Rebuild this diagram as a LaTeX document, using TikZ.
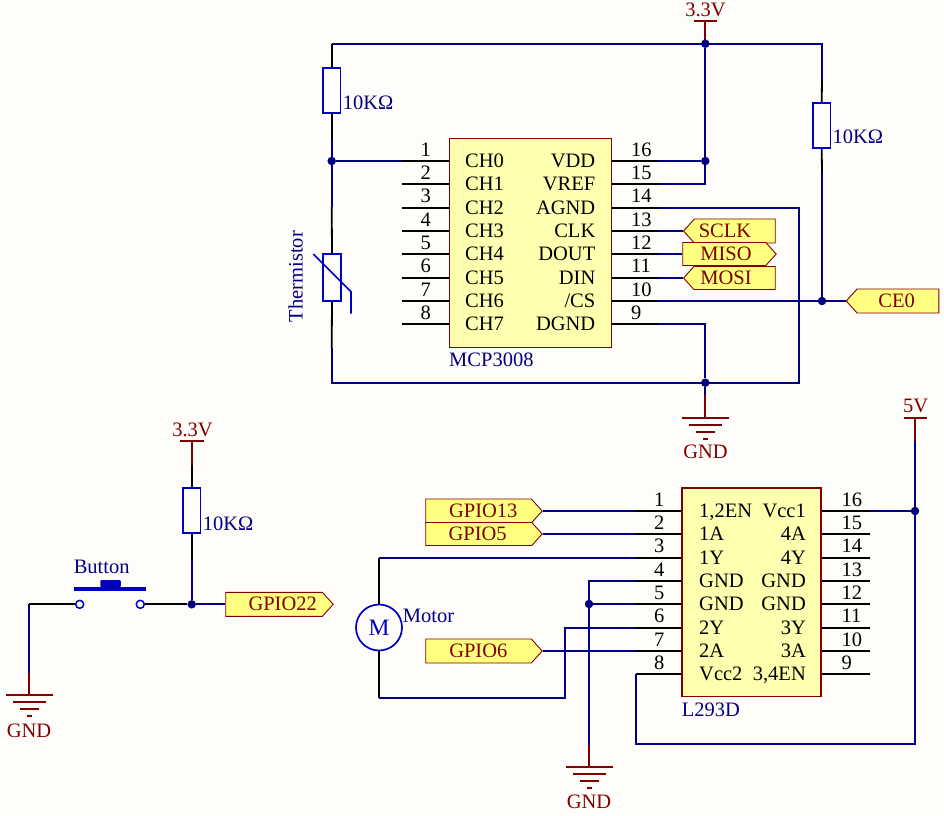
\documentclass[tikz,border=0pt]{standalone}
\usepackage{fontspec}
\setmainfont{Liberation Serif}
\usetikzlibrary{shapes.symbols}
\definecolor{wire}{HTML}{000080}
\definecolor{power}{HTML}{800000}
\definecolor{part}{HTML}{0000C0}
\definecolor{paper}{HTML}{FFFDF9}
\definecolor{chipfill}{HTML}{FFFFB0}
\definecolor{tagfill}{HTML}{FFFF80}
\newcommand{\sch}{\fontsize{20.5}{24}\selectfont}
\tikzset{
    txt/.style={inner sep=0pt, text height=12pt, text depth=0pt, font=\sch},
    pinnum/.style={txt, text=black},
    pinleft/.style={txt, text=black, anchor=west},
    pinright/.style={txt, text=black, anchor=east},
    partname/.style={txt, text=wire},
    powername/.style={txt, text=power},
    tagtext/.style={txt, text=power},
    chip/.style={rectangle, draw=power, fill=chipfill, inner sep=0pt},
    res/.style={rectangle, draw=part, line width=1.7pt, fill=paper, inner sep=0pt, minimum width=17.5pt, minimum height=45.5pt},
    tag/.style={signal, draw=power, line width=0.9pt, fill=tagfill, inner sep=0pt, signal pointer angle=96},
    dot/.style={circle, fill=wire, inner sep=0pt, minimum size=8.5pt},
    contact/.style={circle, draw=part, line width=1.5pt, fill=paper, inner sep=0pt, minimum size=8pt},
    wireline/.style={draw=wire, line width=1.8pt},
    pinline/.style={draw=black, line width=1.8pt},
    powerline/.style={draw=power, line width=1.8pt}
}

\begin{document}
\begin{tikzpicture}[x=1pt, y=-1pt]
    \fill[paper] (0,0) rectangle (944,815);
    \useasboundingbox (0,0) rectangle (944,815);

    % MCP3008
    \node[chip, line width=0.9pt, minimum width=162.5pt, minimum height=209pt] (U1) at (530.5,243) {};
    \node[partname, anchor=west] (U1_name) at (449,360) {MCP3008};
    \coordinate (U1_1) at (402,161);
    \coordinate (U1_2) at (402,184);
    \coordinate (U1_3) at (402,208);
    \coordinate (U1_4) at (402,231);
    \coordinate (U1_5) at (402,254);
    \coordinate (U1_6) at (402,278);
    \coordinate (U1_7) at (402,301);
    \coordinate (U1_8) at (402,324);
    \coordinate (U1_9) at (658,324);
    \coordinate (U1_10) at (658,301);
    \coordinate (U1_11) at (658,278);
    \coordinate (U1_12) at (658,254);
    \coordinate (U1_13) at (658,231);
    \coordinate (U1_14) at (658,208);
    \coordinate (U1_15) at (658,184);
    \coordinate (U1_16) at (658,161);
    \node[pinnum] (N1_1) at (425.7,150) {1};
    \node[pinnum] (N1_2) at (425.7,173.7) {2};
    \node[pinnum] (N1_3) at (425.7,196.7) {3};
    \node[pinnum] (N1_4) at (425.7,220) {4};
    \node[pinnum] (N1_5) at (425.7,243.3) {5};
    \node[pinnum] (N1_6) at (425.7,266.7) {6};
    \node[pinnum] (N1_7) at (425.7,290) {7};
    \node[pinnum] (N1_8) at (425.7,313.3) {8};
    \node[pinnum, anchor=west] (N1_9) at (631,313.3) {9};
    \node[pinnum, anchor=west] (N1_10) at (631,290) {10};
    \node[pinnum, anchor=west] (N1_11) at (631,266.7) {11};
    \node[pinnum, anchor=west] (N1_12) at (631,243.3) {12};
    \node[pinnum, anchor=west] (N1_13) at (631,220) {13};
    \node[pinnum, anchor=west] (N1_14) at (631,196.7) {14};
    \node[pinnum, anchor=west] (N1_15) at (631,173.7) {15};
    \node[pinnum, anchor=west] (N1_16) at (631,150) {16};
    \node[pinleft] (L1_1) at (465,161) {CH0};
    \node[pinleft] (L1_2) at (465,184) {CH1};
    \node[pinleft] (L1_3) at (465,208) {CH2};
    \node[pinleft] (L1_4) at (465,231) {CH3};
    \node[pinleft] (L1_5) at (465,254) {CH4};
    \node[pinleft] (L1_6) at (465,278) {CH5};
    \node[pinleft] (L1_7) at (465,301) {CH6};
    \node[pinleft] (L1_8) at (465,324) {CH7};
    \node[pinright] (L1_9) at (595.5,324) {DGND};
    \node[pinright] (L1_10) at (595.5,301) {/CS};
    \node[pinright] (L1_11) at (595.5,278) {DIN};
    \node[pinright] (L1_12) at (595.5,254) {DOUT};
    \node[pinright] (L1_13) at (595.5,231) {CLK};
    \node[pinright] (L1_14) at (595.5,208) {AGND};
    \node[pinright] (L1_15) at (595.5,184) {VREF};
    \node[pinright] (L1_16) at (595.5,161) {VDD};

    % L293D
    \node[chip, line width=1.8pt, minimum width=139.5pt, minimum height=208.5pt] (U2) at (751.5,592.3) {};
    \node[partname, anchor=west] (U2_name) at (681.7,710) {L293D};
    \coordinate (U2_1) at (636,511);
    \coordinate (U2_2) at (636,534);
    \coordinate (U2_3) at (636,558);
    \coordinate (U2_4) at (636,581);
    \coordinate (U2_5) at (636,604);
    \coordinate (U2_6) at (636,628);
    \coordinate (U2_7) at (636,651);
    \coordinate (U2_8) at (636,674);
    \coordinate (U2_9) at (870,674);
    \coordinate (U2_10) at (870,651);
    \coordinate (U2_11) at (870,628);
    \coordinate (U2_12) at (870,604);
    \coordinate (U2_13) at (870,581);
    \coordinate (U2_14) at (870,558);
    \coordinate (U2_15) at (870,534);
    \coordinate (U2_16) at (870,511);
    \node[pinnum] (N2_1) at (659.3,500) {1};
    \node[pinnum] (N2_2) at (659.3,523.5) {2};
    \node[pinnum] (N2_3) at (659.3,546.5) {3};
    \node[pinnum] (N2_4) at (659.3,570) {4};
    \node[pinnum] (N2_5) at (659.3,593.5) {5};
    \node[pinnum] (N2_6) at (659.3,616.5) {6};
    \node[pinnum] (N2_7) at (659.3,640) {7};
    \node[pinnum] (N2_8) at (659.3,663.3) {8};
    \node[pinnum, anchor=west] (N2_9) at (841.5,663.3) {9};
    \node[pinnum, anchor=west] (N2_10) at (841.5,640) {10};
    \node[pinnum, anchor=west] (N2_11) at (841.5,616.5) {11};
    \node[pinnum, anchor=west] (N2_12) at (841.5,593.5) {12};
    \node[pinnum, anchor=west] (N2_13) at (841.5,570) {13};
    \node[pinnum, anchor=west] (N2_14) at (841.5,546.5) {14};
    \node[pinnum, anchor=west] (N2_15) at (841.5,523.5) {15};
    \node[pinnum, anchor=west] (N2_16) at (841.5,500) {16};
    \node[pinleft] (L2_1) at (699,511.5) {1,2EN};
    \node[pinleft] (L2_2) at (699,534.5) {1A};
    \node[pinleft] (L2_3) at (699,558.5) {1Y};
    \node[pinleft] (L2_4) at (699,581.5) {GND};
    \node[pinleft] (L2_5) at (699,604.5) {GND};
    \node[pinleft] (L2_6) at (699,628.5) {2Y};
    \node[pinleft] (L2_7) at (699,651.5) {2A};
    \node[pinleft] (L2_8) at (699,674.5) {Vcc2};
    \node[pinright] (L2_9) at (806,674.5) {3,4EN};
    \node[pinright] (L2_10) at (806,651.5) {3A};
    \node[pinright] (L2_11) at (806,628.5) {3Y};
    \node[pinright] (L2_12) at (806,604.5) {GND};
    \node[pinright] (L2_13) at (806,581.5) {GND};
    \node[pinright] (L2_14) at (806,558.5) {4Y};
    \node[pinright] (L2_15) at (806,534.5) {4A};
    \node[pinright] (L2_16) at (806,511.5) {Vcc1};

    % resistors and thermistor
    \node[res] (R1) at (331.7,90.4) {};
    \node[res] (R2) at (821.7,125.4) {};
    \node[res] (R3) at (191.7,510.4) {};
    \node[res, minimum width=18.5pt, minimum height=47.5pt] (TH) at (332,277.4) {};
    \node[partname, anchor=west] (R1_val) at (342.7,103.5) {10KΩ};
    \node[partname, anchor=west] (R2_val) at (832.3,137.7) {10KΩ};
    \node[partname, anchor=west] (R3_val) at (202.7,524) {10KΩ};
    \node[partname, rotate=90] (TH_name) at (296.7,276.7) {Thermistor};
    \coordinate (TH_a) at (313.3,254);
    \coordinate (TH_b) at (351,291.7);
    \coordinate (TH_c) at (351,313.7);

    % tags
    \node[tag, signal to=west, anchor=east, minimum width=91.7pt, minimum height=24pt] (SCLK) at (775.7,231) {};
    \node[tag, signal to=east, anchor=west, minimum width=93.4pt, minimum height=23pt] (MISO) at (682.3,254) {};
    \node[tag, signal to=west, anchor=east, minimum width=91.7pt, minimum height=23pt] (MOSI) at (775.7,278) {};
    \node[tag, signal to=west, anchor=east, minimum width=92.6pt, minimum height=24pt] (CE0) at (939.3,301) {};
    \node[tag, signal to=east, anchor=west, minimum width=116.4pt, minimum height=24pt] (GPIO13) at (425.3,511) {};
    \node[tag, signal to=east, anchor=west, minimum width=116.4pt, minimum height=23pt] (GPIO5) at (425.3,534) {};
    \node[tag, signal to=east, anchor=west, minimum width=116.4pt, minimum height=24pt] (GPIO6) at (425.3,651) {};
    \node[tag, signal to=east, anchor=west, minimum width=107.4pt, minimum height=24pt] (GPIO22) at (225.3,604.3) {};
    \node[tagtext] (SCLK_t) at (725,231) {SCLK};
    \node[tagtext] (MISO_t) at (726,254.5) {MISO};
    \node[tagtext] (MOSI_t) at (726,278) {MOSI};
    \node[tagtext] (CE0_t) at (896.7,301) {CE0};
    \node[tagtext] (GPIO13_t) at (483.3,511) {GPIO13};
    \node[tagtext] (GPIO5_t) at (477.7,534.5) {GPIO5};
    \node[tagtext] (GPIO6_t) at (478.3,651) {GPIO6};
    \node[tagtext] (GPIO22_t) at (282.7,604.3) {GPIO22};

    % junctions
    \node[dot] (J1) at (331.7,161) {};
    \node[dot] (J2) at (705.3,43.7) {};
    \node[dot] (J3) at (705.3,161) {};
    \node[dot] (J4) at (705.3,382.7) {};
    \node[dot] (J5) at (822,301) {};
    \node[dot] (J6) at (191.7,604.3) {};
    \node[dot] (J7) at (589,604) {};
    \node[dot] (J8) at (915,511) {};

    % corners and colour changes
    \coordinate (TL) at (331.7,43.7);
    \coordinate (TR) at (822,43.7);
    \coordinate (R1_t) at (331.7,43.7);
    \coordinate (R1_b) at (331.7,140);
    \coordinate (TH_t) at (331.7,206.7);
    \coordinate (TH_d) at (331.7,348.3);
    \coordinate (BL) at (331.7,382.7);
    \coordinate (BR) at (799,382.7);
    \coordinate (R2_t) at (822,80);
    \coordinate (R2_b) at (822,172);
    \coordinate (R3_t) at (191.7,465);
    \coordinate (R3_b) at (191.7,560);
    \coordinate (BT_l) at (29,604.3);
    \coordinate (M_t) at (379,558);
    \coordinate (M_d) at (379,697.7);
    \coordinate (W6) at (565.3,697.7);
    \coordinate (W8) at (636,743.7);
    \coordinate (W9) at (915,743.7);

    % power symbols
    \node[powername] (V1_t) at (705.5,10) {3.3V};
    \node[powername] (V2_t) at (192.5,430) {3.3V};
    \node[powername] (V3_t) at (915.7,406.7) {5V};
    \node[powername] (G1_t) at (705.5,452.7) {GND};
    \node[powername] (G2_t) at (29,731) {GND};
    \node[powername] (G3_t) at (589,802.7) {GND};
    \coordinate (V1) at (705.3,21);
    \coordinate (V1_e) at (705.3,40);
    \coordinate (V2) at (191.7,441);
    \coordinate (V3) at (915,418);
    \coordinate (V3_e) at (915,440.7);
    \coordinate (G1) at (705.3,417.7);
    \coordinate (G1_e) at (705.3,395);
    \coordinate (G2) at (29,695);
    \coordinate (G2_e) at (29,673);
    \coordinate (G3) at (589,767.3);
    \coordinate (G3_e) at (589,745);
    \draw[powerline] (V1) ++(-11.5,0) -- ++(23,0) (V1) -- (V1_e);
    \draw[powerline] (V2) ++(-12,0) -- ++(24,0) (V2) -- (R3_t);
    \draw[powerline] (V3) ++(-11.5,0) -- ++(23,0) (V3) -- (V3_e);
    \draw[powerline] (G1) ++(-23.5,0) -- ++(47,0) (G1) ++(-16.5,7) -- ++(33,0) (G1) ++(-9.5,14) -- ++(19,0) (G1) ++(-2.5,21) -- ++(5,0) (G1) -- (G1_e);
    \draw[powerline] (G2) ++(-23.5,0) -- ++(47,0) (G2) ++(-16.5,7) -- ++(33,0) (G2) ++(-9.5,14) -- ++(19,0) (G2) ++(-2.5,21) -- ++(5,0) (G2) -- (G2_e);
    \draw[powerline] (G3) ++(-23.5,0) -- ++(47,0) (G3) ++(-16.5,7) -- ++(33,0) (G3) ++(-9.5,14) -- ++(19,0) (G3) ++(-2.5,21) -- ++(5,0) (G3) -- (G3_e);

    % button
    \node[rectangle, fill=part, inner sep=0pt, minimum width=72pt, minimum height=3.5pt] (B_bar) at (110,589) {};
    \node[rectangle, rounded corners=1pt, fill=part, inner sep=0pt, minimum width=20.5pt, minimum height=7pt] (B_cap) at (110.5,583.5) {};
    \node[contact] (B_l) at (79.7,604.3) {};
    \node[contact] (B_r) at (140.3,604.3) {};
    \node[partname] (B_name) at (101.7,567) {Button};

    % motor
    \node[circle, draw=part, line width=1.7pt, fill=paper, inner sep=0pt, minimum size=46pt, text=part, font=\fontsize{23.5}{24}\selectfont] (M) at (379,627.5) {M};
    \node[partname, anchor=west] (M_name) at (402.7,616.7) {Motor};

    % wires
    \draw[wireline] (TL) -- (TR) -- (R2_t);
    \draw[wireline] (J2) -- (V1_e);
    \draw[wireline] (J2) -- (J3);
    \draw[wireline] (J3) -- (U1_16);
    \draw[wireline] (U1_15) -| (J3);
    \draw[wireline] (U1_14) -| (BR) -- (BL) -- (TH_d);
    \draw[wireline] (U1_9) -| (J4);
    \draw[wireline] (J4) -- (G1_e);
    \draw[wireline] (R1_b) -- (TH_t);
    \draw[wireline] (J1) -- (U1_1);
    \draw[wireline] (U1_13) -- (SCLK.west);
    \draw[wireline] (U1_12) -- (MISO.west);
    \draw[wireline] (U1_11) -- (MOSI.west);
    \draw[wireline] (U1_10) -- (CE0.west);
    \draw[wireline] (R2_b) -- (J5);
    \draw[wireline] (R3_b) -- (J6);
    \draw[wireline] (J6) -- (GPIO22.west);
    \draw[wireline] (BT_l) -- (G2_e);
    \draw[wireline] (GPIO13.east) -- (U2_1);
    \draw[wireline] (GPIO5.east) -- (U2_2);
    \draw[wireline] (GPIO6.east) -- (U2_7);
    \draw[wireline] (M_t) -- (U2_3);
    \draw[wireline] (M_d) -- (W6) |- (U2_6);
    \draw[wireline] (U2_4) -| (G3_e);
    \draw[wireline] (J7) -- (U2_5);
    \draw[wireline] (U2_8) -- (W8) -- (W9) -- (V3_e);
    \draw[wireline] (J8) -- (U2_16);

    % pins and leads
    \draw[pinline] (U1_1) -- (U1_1 -| U1.west);
    \draw[pinline] (U1_2) -- (U1_2 -| U1.west);
    \draw[pinline] (U1_3) -- (U1_3 -| U1.west);
    \draw[pinline] (U1_4) -- (U1_4 -| U1.west);
    \draw[pinline] (U1_5) -- (U1_5 -| U1.west);
    \draw[pinline] (U1_6) -- (U1_6 -| U1.west);
    \draw[pinline] (U1_7) -- (U1_7 -| U1.west);
    \draw[pinline] (U1_8) -- (U1_8 -| U1.west);
    \draw[pinline] (U1_9) -- (U1_9 -| U1.east);
    \draw[pinline] (U1_10) -- (U1_10 -| U1.east);
    \draw[pinline] (U1_11) -- (U1_11 -| U1.east);
    \draw[pinline] (U1_12) -- (U1_12 -| U1.east);
    \draw[pinline] (U1_13) -- (U1_13 -| U1.east);
    \draw[pinline] (U1_14) -- (U1_14 -| U1.east);
    \draw[pinline] (U1_15) -- (U1_15 -| U1.east);
    \draw[pinline] (U1_16) -- (U1_16 -| U1.east);
    \draw[pinline] (U2_1) -- (U2_1 -| U2.west);
    \draw[pinline] (U2_2) -- (U2_2 -| U2.west);
    \draw[pinline] (U2_3) -- (U2_3 -| U2.west);
    \draw[pinline] (U2_4) -- (U2_4 -| U2.west);
    \draw[pinline] (U2_5) -- (U2_5 -| U2.west);
    \draw[pinline] (U2_6) -- (U2_6 -| U2.west);
    \draw[pinline] (U2_7) -- (U2_7 -| U2.west);
    \draw[pinline] (U2_8) -- (U2_8 -| U2.west);
    \draw[pinline] (U2_9) -- (U2_9 -| U2.east);
    \draw[pinline] (U2_10) -- (U2_10 -| U2.east);
    \draw[pinline] (U2_11) -- (U2_11 -| U2.east);
    \draw[pinline] (U2_12) -- (U2_12 -| U2.east);
    \draw[pinline] (U2_13) -- (U2_13 -| U2.east);
    \draw[pinline] (U2_14) -- (U2_14 -| U2.east);
    \draw[pinline] (U2_15) -- (U2_15 -| U2.east);
    \draw[pinline] (U2_16) -- (U2_16 -| U2.east);
    \draw[pinline] (R1_t) -- (R1.north);
    \draw[pinline] (R1.south) -- (R1_b);
    \draw[pinline] (R2_t) -- (R2.north);
    \draw[pinline] (R2.south) -- (R2_b);
    \draw[pinline] (R3_t) -- (R3.north);
    \draw[pinline] (R3.south) -- (R3_b);
    \draw[pinline] (TH_t) -- (TH.north);
    \draw[pinline] (TH.south) -- (TH_d);
    \draw[pinline] (BT_l) -- (B_l.west);
    \draw[pinline] (B_r.east) -- (J6);
    \draw[pinline] (M_t) -- (M.north);
    \draw[pinline] (M.south) -- (M_d);
    \draw[part, line width=1.6pt] (TH_a) -- (TH_b) -- (TH_c);
\end{tikzpicture}
\end{document}
